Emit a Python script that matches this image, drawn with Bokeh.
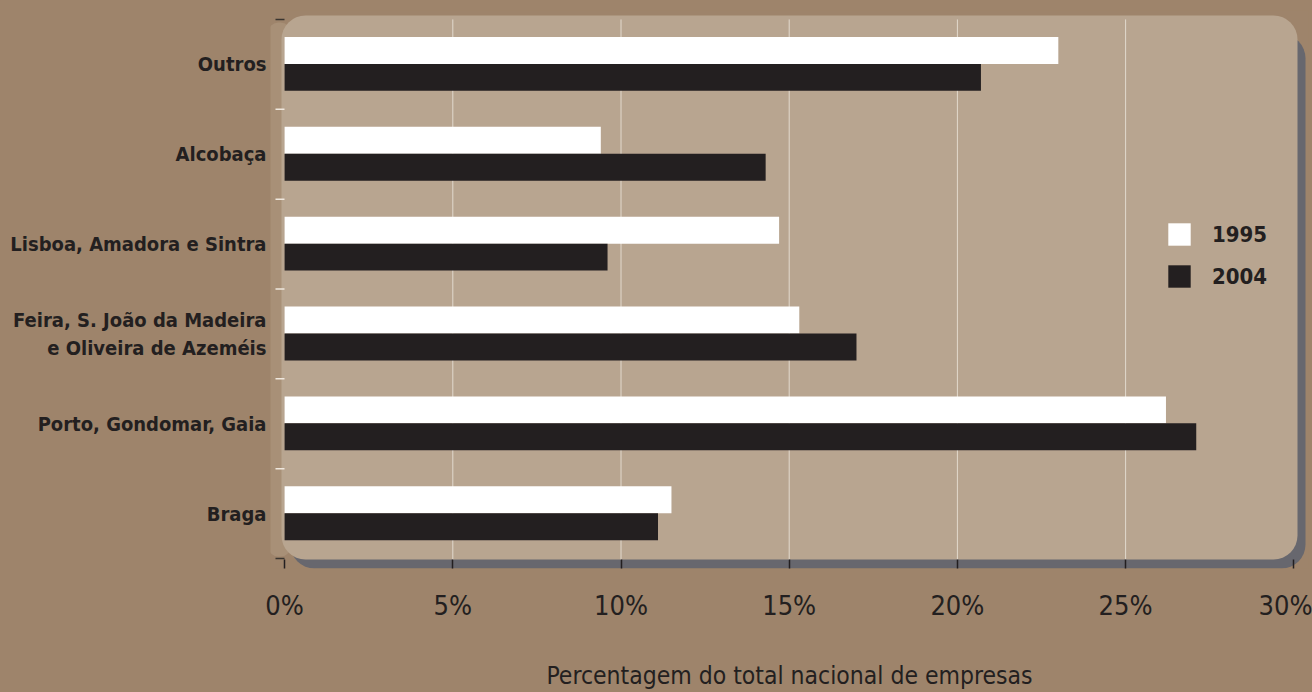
from bokeh.plotting import figure
from bokeh.models import (Range1d, FixedTicker, PrintfTickFormatter, BoxAnnotation,
                          Legend, LegendItem)
from bokeh.embed import file_html
from bokeh.resources import INLINE

# Share of national companies by region (%)
regions = ["Braga", "Porto, Gondomar, Gaia",
           "Feira, S. João da Madeira\ne Oliveira de Azeméis",
           "Lisboa, Amadora e Sintra", "Alcobaça", "Outros"]
share_1995 = [11.5, 26.2, 15.3, 14.7, 9.4, 23.0]
share_2004 = [11.1, 27.1, 17.0, 9.6, 14.3, 20.7]
x_ticks = [0, 5, 10, 15, 20, 25, 30]

BG = "#9e846b"
PANEL = "#b8a590"
SHADOW = "#67676e"
INK = "#231f20"
NARROW = "'DejaVu Sans Condensed', 'Liberation Sans Narrow', sans-serif"

W, H = 1312, 692
F_LEFT, F_RIGHT, F_TOP, F_BOTTOM = 270, 1308, 10, 572   # frame in screen px
X0_PX, X30_PX = 284.1, 1293.3                           # where 0% and 30% sit
Y_TOP_PX, Y_BOT_PX = 19.0, 562.0                        # category band edges

n = len(regions)
xs = (X30_PX - X0_PX) / 30.0
ys = (Y_BOT_PX - Y_TOP_PX) / n
x_start = -(X0_PX - F_LEFT) / xs
x_end = 30 + (F_RIGHT - X30_PX) / xs
y_start = -(F_BOTTOM - Y_BOT_PX) / ys
y_end = n + (Y_TOP_PX - F_TOP) / ys


def px_x(px):
    return (px - X0_PX) / xs


def px_y(py):
    return (Y_BOT_PX - py) / ys


p = figure(width=W, height=H, x_range=Range1d(x_start, x_end), y_range=Range1d(y_start, y_end),
           output_backend="svg", toolbar_location=None,
           min_border_left=F_LEFT, min_border_right=W - F_RIGHT,
           min_border_top=F_TOP, min_border_bottom=H - F_BOTTOM)
p.styles = {"background-color": BG}
p.border_fill_color = BG
p.background_fill_color = BG
p.outline_line_color = None
p.xgrid.visible = False
p.ygrid.visible = False

# soft bevel along the panel's left edge
p.add_layout(BoxAnnotation(left=px_x(268), right=px_x(290), top=px_y(22), bottom=px_y(560),
                           fill_color="#a89077", fill_alpha=1, line_color=None,
                           border_radius=10, level="image"))
# rounded panel with a drop shadow
p.add_layout(BoxAnnotation(left=px_x(290), right=px_x(1305), top=px_y(34), bottom=px_y(572),
                           fill_color=SHADOW, fill_alpha=1, line_color=None,
                           border_radius=24, level="image"))
p.add_layout(BoxAnnotation(left=px_x(281), right=px_x(1297), top=px_y(15), bottom=px_y(563),
                           fill_color=PANEL, fill_alpha=1, line_color=None,
                           border_radius=24, level="image"))

# vertical grid lines
grid_x = x_ticks[1:-1]
p.segment(x0=grid_x, x1=grid_x, y0=[px_y(563)] * len(grid_x), y1=[px_y(19)] * len(grid_x),
          line_color="#e2d9cd", line_width=1, level="underlay")

centers = [i + 0.5 for i in range(n)]
bar_h = 0.30
r95 = p.hbar(y=[c + 0.155 for c in centers], left=0, right=share_1995, height=bar_h,
             fill_color="#ffffff", line_color=None)
r04 = p.hbar(y=[c - 0.145 for c in centers], left=0, right=share_2004, height=bar_h,
             fill_color=INK, line_color=None)

# category boundary ticks on the left edge
edges = list(range(n + 1))
p.segment(x0=[px_x(275)] * len(edges), x1=[px_x(284)] * len(edges), y0=edges, y1=edges,
          line_color=["#3a3530"] + ["#efe8de"] * (n - 1) + ["#3a3530"], line_width=1.5)

# axes
xa = p.xaxis[0]
xa.ticker = FixedTicker(ticks=x_ticks)
xa.formatter = PrintfTickFormatter(format="%d%%")
xa.axis_line_color = None
xa.major_tick_in = 9
xa.major_tick_out = 0
xa.major_tick_line_color = INK
xa.major_tick_line_width = 1.5
xa.minor_tick_line_color = None
xa.major_label_text_font = NARROW
xa.major_label_text_font_size = "27px"
xa.major_label_text_color = INK
xa.major_label_standoff = 21
xa.axis_label = "Percentagem do total nacional de empresas"
xa.axis_label_text_font = NARROW
xa.axis_label_text_font_size = "24.5px"
xa.axis_label_text_font_style = "normal"
xa.axis_label_text_color = INK
xa.axis_label_standoff = 37

ya = p.yaxis[0]
ya.ticker = FixedTicker(ticks=centers)
ya.major_label_overrides = {c: r for c, r in zip(centers, regions)}
ya.axis_line_color = None
ya.major_tick_line_color = None
ya.minor_tick_line_color = None
ya.major_tick_in = 0
ya.major_tick_out = 0
ya.major_label_standoff = 4
ya.major_label_text_font = NARROW
ya.major_label_text_font_style = "bold"
ya.major_label_text_font_size = "20px"
ya.major_label_text_color = INK
ya.major_label_text_line_height = 1.15

legend = Legend(items=[LegendItem(label="1995", renderers=[r95]),
                       LegendItem(label="2004", renderers=[r04])],
                location=(895, 278), orientation="vertical",
                background_fill_alpha=0, border_line_color=None,
                glyph_width=28, glyph_height=28, label_height=28,
                label_standoff=19, spacing=14, padding=0, margin=0,
                label_text_font=NARROW, label_text_font_style="bold",
                label_text_font_size="22px", label_text_color=INK)
p.add_layout(legend, "center")

open("out.html", "w").write(file_html(p, INLINE))
